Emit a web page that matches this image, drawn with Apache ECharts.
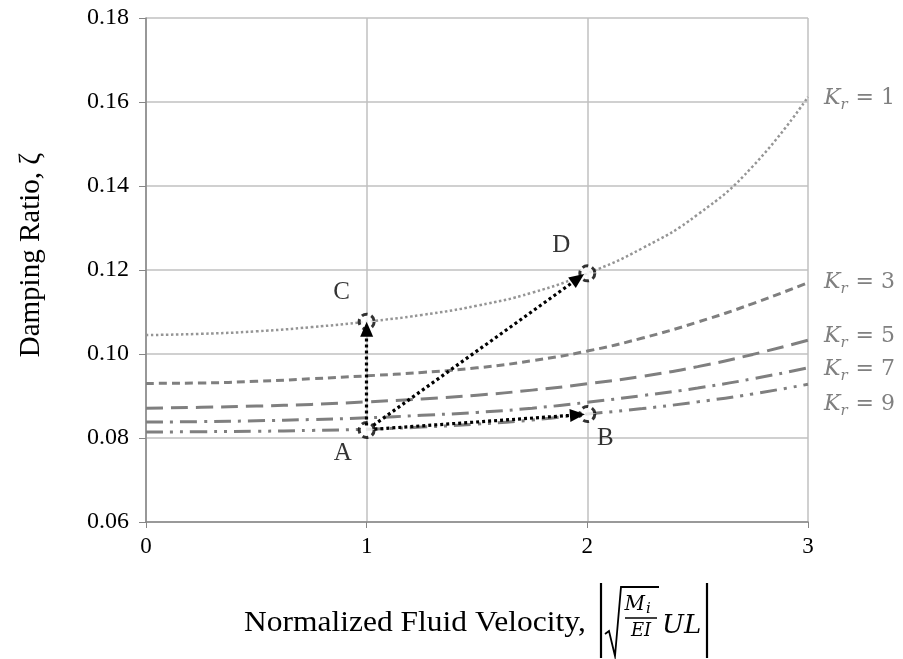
<!DOCTYPE html>
<html>
<head>
<meta charset="utf-8">
<script src="https://cdn.jsdelivr.net/npm/echarts@6/dist/echarts.min.js"></script>
<style>
html, body { margin: 0; padding: 0; background: #fff; }
#chart { width: 903px; height: 659px; }
</style>
</head>
<body>
<div id="chart"></div>
<script>
// normalized fluid velocity (x) and damping ratio for each stiffness ratio
var velocity = [0, 0.25, 0.5, 0.75, 1, 1.25, 1.5, 1.75, 2, 2.25, 2.5, 2.75, 3];
var kr1 = [0.1045, 0.1048, 0.1054, 0.1064, 0.1077, 0.1093, 0.1115, 0.1146, 0.1192, 0.1252, 0.1332, 0.1447, 0.1612];
var kr3 = [0.0930, 0.0931, 0.0935, 0.0941, 0.0948, 0.0956, 0.0967, 0.0984, 0.1007, 0.1038, 0.1076, 0.1120, 0.1170];
var kr5 = [0.0871, 0.0873, 0.0876, 0.0880, 0.0886, 0.0893, 0.0902, 0.0914, 0.0929, 0.0947, 0.0970, 0.0999, 0.1033];
var kr7 = [0.0838, 0.0839, 0.0841, 0.0844, 0.0848, 0.0854, 0.0861, 0.0871, 0.0885, 0.0901, 0.0919, 0.0941, 0.0967];
var kr9 = [0.0814, 0.0815, 0.0816, 0.0818, 0.0821, 0.0826, 0.0833, 0.0843, 0.0857, 0.0870, 0.0886, 0.0905, 0.0928];
var krValues = ['1', '3', '5', '7', '9'];

// marked design points and the arrows between them
var pointNames = ['A', 'B', 'C', 'D'];
var pointX = [1, 2, 1, 2];
var pointY = [0.0819, 0.0857, 0.1077, 0.1192];
var arrowFrom = [[1.0, 0.0830], [1.035, 0.0821], [1.03, 0.0830]];
var arrowTo = [[1.0, 0.1059], [1.955, 0.0855], [1.958, 0.1180]];

var chart = echarts.init(document.getElementById('chart'));

function zip(xs, ys) {
    return xs.map(function (x, i) { return [x, ys[i]]; });
}

var serif = 'Liberation Serif';
var curveStyles = [
    { color: '#959595', type: [2.5, 2.5], width: 2.5, dy: 1 },
    { color: '#7f7f7f', type: [8, 5], width: 3, dy: 0 },
    { color: '#7f7f7f', type: [17, 8], width: 3, dy: -4 },
    { color: '#7f7f7f', type: [17, 7, 3, 7], width: 3, dy: 1 },
    { color: '#7f7f7f', type: [17, 7, 3, 7, 3, 7], width: 3, dy: 20 }
];

var series = [kr1, kr3, kr5, kr7, kr9].map(function (vals, i) {
    var st = curveStyles[i];
    return {
        name: 'Kr = ' + krValues[i],
        type: 'line',
        smooth: true,
        showSymbol: false,
        silent: true,
        z: 2,
        data: zip(velocity, vals),
        lineStyle: { color: st.color, width: st.width, type: st.type, cap: 'butt' },
        endLabel: {
            show: true,
            distance: 16,
            offset: [0, st.dy],
            formatter: '{k|K}{s|r}{e| = ' + krValues[i] + '}',
            rich: {
                k: { fontFamily: 'DejaVu Serif', fontStyle: 'italic', fontSize: 22, color: '#808080' },
                s: { fontFamily: 'DejaVu Serif', fontStyle: 'italic', fontSize: 15, color: '#808080', padding: [14, 1, 0, 0] },
                e: { fontFamily: 'DejaVu Serif', fontSize: 22, color: '#808080' }
            }
        }
    };
});

var labelOffsets = [[-24, 23], [18, 24], [-25, -29], [-26, -28]];

// arrows
series.push({
    type: 'line',
    data: [],
    z: 3,
    markLine: {
        silent: true,
        symbol: ['none', 'triangle'],
        symbolSize: [13, 15],
        label: { show: false },
        lineStyle: { color: '#000', width: 3.2, type: [3, 3] },
        data: arrowFrom.map(function (f, i) {
            return [{ coord: f }, { coord: arrowTo[i] }];
        })
    }
});

// points A-D
series.push({
    type: 'scatter',
    z: 4,
    symbol: 'circle',
    symbolSize: 15,
    itemStyle: { color: '#fff', borderColor: '#000', borderWidth: 3, borderType: [6, 4] },
    data: pointNames.map(function (n, i) {
        return {
            name: n,
            value: [pointX[i], pointY[i]],
            label: {
                show: true,
                position: 'inside',
                offset: labelOffsets[i],
                formatter: '{b}',
                fontFamily: serif,
                fontSize: 25,
                color: '#000'
            }
        };
    })
});

chart.setOption({
    animation: false,
    grid: { left: 146, right: 95, top: 18, bottom: 137 },
    xAxis: {
        type: 'value',
        min: 0,
        max: 3,
        interval: 1,
        axisLine: { lineStyle: { color: '#868686', width: 1.5 } },
        axisTick: { show: true, length: 6, lineStyle: { color: '#868686' } },
        splitLine: { show: true, lineStyle: { color: '#c0c0c0', width: 1.5 } },
        axisLabel: { fontFamily: serif, fontSize: 23, color: '#000', margin: 13 }
    },
    yAxis: {
        type: 'value',
        min: 0.06,
        max: 0.18,
        interval: 0.02,
        axisLine: { show: true, lineStyle: { color: '#868686', width: 1.5 } },
        axisTick: { show: true, length: 7, lineStyle: { color: '#868686' } },
        splitLine: { show: true, lineStyle: { color: '#c0c0c0', width: 1.5 } },
        axisLabel: {
            fontFamily: serif, fontSize: 24, color: '#000', margin: 17,
            formatter: function (v) { return v.toFixed(2); }
        }
    },
    graphic: [
        {
            type: 'text', x: 31, y: 255, rotation: Math.PI / 2,
            style: { text: 'Damping Ratio, ζ', font: '29px "Liberation Serif"', fill: '#000',
                     textAlign: 'center', textVerticalAlign: 'middle' }
        },
        {
            type: 'text', x: 244, y: 623, scaleX: 1.05,
            style: { text: 'Normalized Fluid Velocity,', font: '30px "Liberation Serif"', fill: '#000',
                     textAlign: 'left', textVerticalAlign: 'middle' }
        },
        { type: 'line', shape: { x1: 601, y1: 583, x2: 601, y2: 658 }, style: { stroke: '#000', lineWidth: 2.2 } },
        { type: 'line', shape: { x1: 707, y1: 583, x2: 707, y2: 658 }, style: { stroke: '#000', lineWidth: 2.2 } },
        {
            type: 'polyline',
            shape: { points: [[605, 634], [609, 631], [615, 656], [621, 587], [659, 587]] },
            style: { stroke: '#000', lineWidth: 1.8, fill: null }
        },
        {
            type: 'text', x: 645, y: 605,
            style: { text: 'M', font: 'italic 20px "DejaVu Serif"', fill: '#000', textAlign: 'right', textVerticalAlign: 'middle' }
        },
        {
            type: 'text', x: 646, y: 609,
            style: { text: 'i', font: 'italic 15px "DejaVu Serif"', fill: '#000', textAlign: 'left', textVerticalAlign: 'middle' }
        },
        { type: 'line', shape: { x1: 625, y1: 618, x2: 657, y2: 618 }, style: { stroke: '#000', lineWidth: 1.5 } },
        {
            type: 'text', x: 641, y: 631,
            style: { text: 'EI', font: 'italic 18px "DejaVu Serif"', fill: '#000', textAlign: 'center', textVerticalAlign: 'middle' }
        },
        {
            type: 'text', x: 662, y: 626,
            style: { text: 'UL', font: 'italic 26px "DejaVu Serif"', fill: '#000', textAlign: 'left', textVerticalAlign: 'middle' }
        }
    ],
    series: series
});
</script>
</body>
</html>
